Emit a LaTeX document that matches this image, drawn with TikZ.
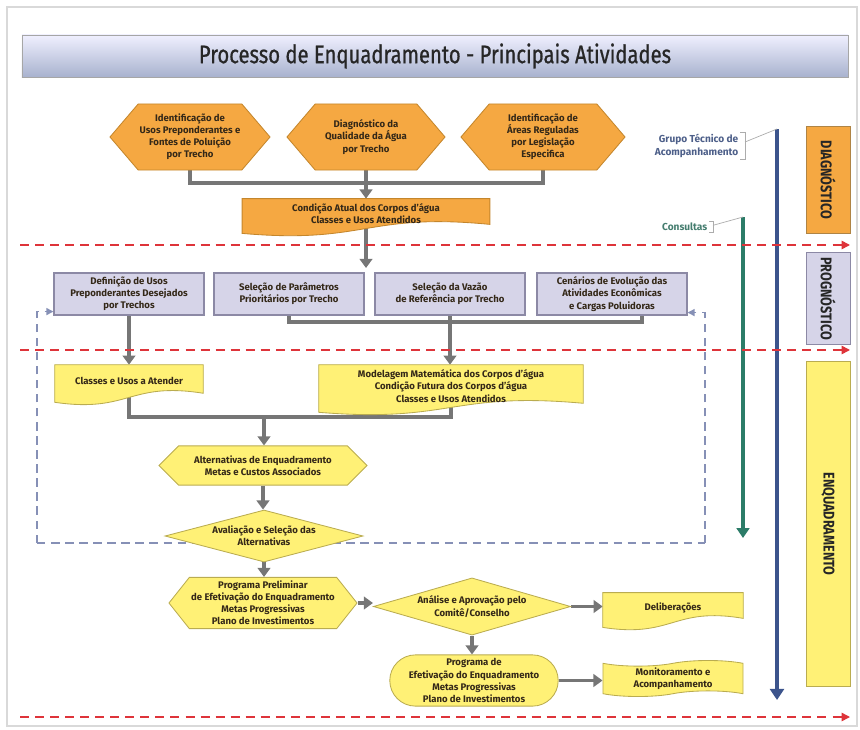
\documentclass[tikz,border=0pt]{standalone}
\usepackage{fontspec}
\setmainfont{Fira Sans}
\newfontfamily\narrowfont[FakeStretch=0.82]{Fira Sans}
\newfontfamily\headfont[FakeStretch=0.8, FakeBold=0.8]{Fira Sans}
\usetikzlibrary{shapes.geometric, shapes.symbols, shapes.misc, arrows.meta, positioning, calc, backgrounds}
\definecolor{orangefill}{RGB}{245, 168, 66}
\definecolor{orangeline}{RGB}{196, 134, 44}
\definecolor{lilacfill}{RGB}{214, 212, 232}
\definecolor{lilacline}{RGB}{140, 137, 165}
\definecolor{yellowfill}{RGB}{255, 241, 118}
\definecolor{yellowline}{RGB}{186, 172, 80}
\definecolor{connector}{RGB}{118, 118, 118}
\definecolor{phasered}{RGB}{222, 52, 58}
\definecolor{loopblue}{RGB}{134, 144, 182}
\definecolor{groupblue}{RGB}{60, 84, 140}
\definecolor{consultgreen}{RGB}{44, 124, 104}
\definecolor{boxtext}{RGB}{52, 40, 24}
\definecolor{barbottom}{RGB}{168, 178, 206}

\pgfdeclarelayer{back}
\pgfdeclarelayer{mid}
\pgfsetlayers{back,mid,main}

% document outline with a wavy lower edge, drawn under the text node
\newcommand{\docoutline}[2]{%
  \path[draw=#2line, fill=#2fill, line width=0.6pt] (#1.north west) -- (#1.north east)
    -- ($(#1.south east)+(0,-4)$) .. controls ($(#1.south)+(0,-16)$) and ($(#1.south)+(0,16)$) .. ($(#1.south west)+(0,5)$) -- cycle;}

\begin{document}
\begin{tikzpicture}[
            x=0.025cm, y=-0.025cm,
            every node/.style={font=\bfseries\fontsize{6.8}{8.6}\selectfont, text=boxtext, align=center},
            hexa/.style={signal, signal to=west and east, draw=orangeline, fill=orangefill, line width=0.6pt, inner sep=1pt},
            yhexa/.style={hexa, draw=yellowline, fill=yellowfill},
            lilac/.style={rectangle, draw=lilacline, fill=lilacfill, line width=0.8pt, minimum width=3.75cm, minimum height=1.05cm, inner sep=1pt},
            doctext/.style={rectangle, inner sep=0pt},
            choice/.style={diamond, draw=yellowline, fill=yellowfill, line width=0.6pt, inner sep=0pt},
            stadium/.style={rounded rectangle, draw=yellowline, fill=yellowfill, line width=0.6pt, inner sep=1pt},
            tapebox/.style={tape, draw=yellowline, fill=yellowfill, line width=0.6pt, tape bend height=4pt, inner sep=1pt},
            phase/.style={rectangle, rotate=-90, line width=0.7pt, minimum height=1.1cm, font=\narrowfont\bfseries\fontsize{11}{12}\selectfont, text=black!85},
            titlebar/.style={rectangle, draw=gray!70, top color=white!94!blue, bottom color=barbottom, minimum width=20.65cm, minimum height=1.05cm, font=\headfont\fontsize{18}{20}\selectfont, text=black!85},
            flow/.style={-{Triangle[width=9pt, length=6.5pt]}, line width=2.8pt, draw=connector},
            bar/.style={line width=2.8pt, draw=connector},
            phaseline/.style={-{Triangle[width=6pt, length=6pt]}, draw=phasered, line width=1.1pt, dash pattern=on 6.4pt off 4.3pt},
            loopline/.style={draw=loopblue, line width=0.9pt, dash pattern=on 6pt off 4pt},
            looparrow/.style={loopline, -{Triangle[width=5pt, length=5pt]}},
            tagtext/.style={inner sep=1pt, align=right, font=\bfseries\fontsize{7.2}{9}\selectfont},
            tagline/.style={draw=gray!65, line width=0.5pt}
        ]
            \useasboundingbox (0,0) rectangle (860,729);
            \draw[gray!30, line width=1pt] (7,7) rectangle (857,726);

            % Title
            \node[titlebar] (title) at (435,56) {Processo de Enquadramento - Principais Atividades};

            % Diagnosis
            \node[hexa, signal pointer angle=99, minimum width=4cm, minimum height=1.65cm] (usos) at (190,137) {Identificação de\\Usos Preponderantes e\\Fontes de Poluição\\por Trecho};
            \node[hexa, signal pointer angle=99, minimum width=3.95cm, minimum height=1.65cm] (quali) at (366,137) {Diagnóstico da\\Qualidade da Água\\por Trecho};
            \node[hexa, signal pointer angle=99, minimum width=4.1cm, minimum height=1.65cm] (areas) at (543,137) {Identificação de\\Áreas Reguladas\\por Legislação\\Especifica};
            \node[doctext, minimum width=6.18cm, minimum height=0.73cm] (atual) at (366,213.5) {Condição Atual dos Corpos d’água\\Classes e Usos Atendidos};

            % Prognosis
            \node[lilac] (usosdes) at (129,294) {Definição de Usos\\Preponderantes Desejados\\por Trechos};
            \node[lilac] (param) at (289,294) {Seleção de Parâmetros\\Prioritários por Trecho};
            \node[lilac] (vazao) at (450,294) {Seleção da Vazão\\de Referência por Trecho};
            \node[lilac] (cenarios) at (612,294) {Cenários de Evolução das\\Atividades Econômicas\\e Cargas Poluidoras};

            % Enquadramento
            \node[doctext, minimum width=3.7cm, minimum height=0.8cm] (classes) at (129,381) {Classes e Usos a Atender};
            \node[doctext, minimum width=6.6cm, minimum height=1.05cm] (modelo) at (451,386) {Modelagem Matemática dos Corpos d’água\\Condição Futura dos Corpos d’água\\Classes e Usos Atendidos};
            \node[yhexa, signal pointer angle=90, minimum width=5.2cm, minimum height=0.98cm] (altern) at (263,465.5) {Alternativas de Enquadramento\\Metas e Custos Associados};
            \node[choice, aspect=3.8, minimum width=4.95cm, minimum height=1.3cm] (avalia) at (264,536) {Avaliação e Seleção das\\Alternativas};
            \node[yhexa, signal pointer angle=103, minimum width=4.7cm, minimum height=1.28cm] (prelim) at (263,603) {Programa Preliminar\\de Efetivação do Enquadramento\\Metas Progressivas\\Plano de Investimentos};
            \node[choice, aspect=3.45, minimum width=4.93cm, minimum height=1.43cm] (analise) at (472,606.5) {Análise e Aprovação pelo\\Comitê/Conselho};
            \node[doctext, minimum width=3.5cm, minimum height=0.73cm] (delib) at (673,607.5) {Deliberações};
            \node[stadium, minimum width=4.28cm, minimum height=1.28cm] (programa) at (474,680.5) {Programa de\\Efetivação do Enquadramento\\Metas Progressivas\\Plano de Investimentos};
            \node[tapebox, minimum width=3.5cm, minimum height=0.83cm] (monit) at (673,678.5) {Monitoramento e\\Acompanhamento};

            % Phases
            \node[phase, fill=orangefill, draw=orangeline!70!gray, minimum width=2.65cm] (diag) at (828,180) {DIAGNÓSTICO};
            \node[phase, fill=lilacfill, draw=lilacline, minimum width=2.03cm] (progn) at (828,298.5) {PROGNÓSTICO};
            \node[phase, fill=yellowfill, draw=yellowline, minimum width=8.1cm] (enq) at (828,524) {ENQUADRAMENTO};

            % Participation
            \coordinate (gtatop) at (777,129);
            \coordinate (gtabot) at (777,700);
            \coordinate (constop) at (743,217);
            \coordinate (consbot) at (743,538);
            \node[tagtext, text=groupblue!75!gray, anchor=east] (gtalabel) at (740,146) {Grupo Técnico de\\Acompanhamento};
            \node[tagtext, text=consultgreen!70!gray, anchor=east] (conslabel) at (709,227) {Consultas};

            % Document outlines
            \begin{pgfonlayer}{mid}
                \docoutline{atual}{orange}
                \docoutline{classes}{yellow}
                \docoutline{modelo}{yellow}
                \docoutline{delib}{yellow}
            \end{pgfonlayer}

            % Arrows
            \begin{pgfonlayer}{back}
                \coordinate (bus1) at (366,183);
                \draw[bar] (usos.south) |- (bus1) -| (areas.south);
                \draw[flow] (quali.south) -- (quali.south |- atual.north);
                \coordinate (rowtop) at (366,268);
                \draw[flow] (atual.south) -- (rowtop);

                \coordinate (bus2) at (450,322);
                \draw[bar] (param.south) |- (bus2) -| ($(cenarios.south)+(30,0)$);
                \draw[flow] (vazao.south) -- (vazao.south |- modelo.north);
                \draw[flow] (usosdes.south) -- (usosdes.south |- classes.north);

                \coordinate (bus3) at (264,417);
                \draw[bar] (classes.south) |- (bus3) -| (modelo.south);
                \draw[flow] (bus3) -- (bus3 |- altern.north);
                \draw[flow] (altern.south) -- (altern.south |- avalia.north);
                \draw[flow] (avalia.south) -- (avalia.south |- prelim.north);
                \draw[flow] (prelim.east) -- (prelim.east -| analise.west);
                \draw[flow] (analise.east) -- (analise.east -| delib.west);
                \draw[flow] (analise.south) -- (analise.south |- programa.north);
                \draw[flow] (programa.east) -- (programa.east -| monit.west);

                % feedback loop
                \coordinate (loopL) at (37,543);
                \coordinate (loopR) at (705,543);
                \draw[loopline] (loopL) -- (loopR);
                \draw[looparrow] (loopL) |- ($(usosdes.south west)+(0,-4)$);
                \draw[looparrow] (loopR) |- ($(cenarios.south east)+(0,-3)$);

                % phase limits
                \coordinate (lim1L) at (20,245);
                \coordinate (lim1R) at (850,245);
                \coordinate (lim2L) at (20,350);
                \coordinate (lim2R) at (850,350);
                \coordinate (lim3L) at (20,717);
                \coordinate (lim3R) at (850,717);
            \end{pgfonlayer}

            \draw[-{Triangle[width=10pt, length=8pt]}, groupblue, line width=3.4pt] (gtatop) -- (gtabot);
            \draw[-{Triangle[width=9pt, length=7pt]}, consultgreen, line width=2.9pt] (constop) -- (consbot);
            \draw[phaseline] (lim1L) -- (lim1R);
            \draw[phaseline] (lim2L) -- (lim2R);
            \draw[phaseline] (lim3L) -- (lim3R);

            \draw[tagline] (gtalabel.north east) -| ($(gtalabel.south east)+(5,0)$) -- (gtalabel.south east);
            \draw[tagline] ($(gtalabel.north east)!0.35!(gtalabel.south east)+(5,0)$) -- (gtatop);
            \draw[tagline] (conslabel.north east) -| ($(conslabel.south east)+(4,0)$) -- (conslabel.south east);
            \draw[tagline] ($(conslabel.north east)!0.35!(conslabel.south east)+(4,0)$) -- (constop);
        \end{tikzpicture}
\end{document}
